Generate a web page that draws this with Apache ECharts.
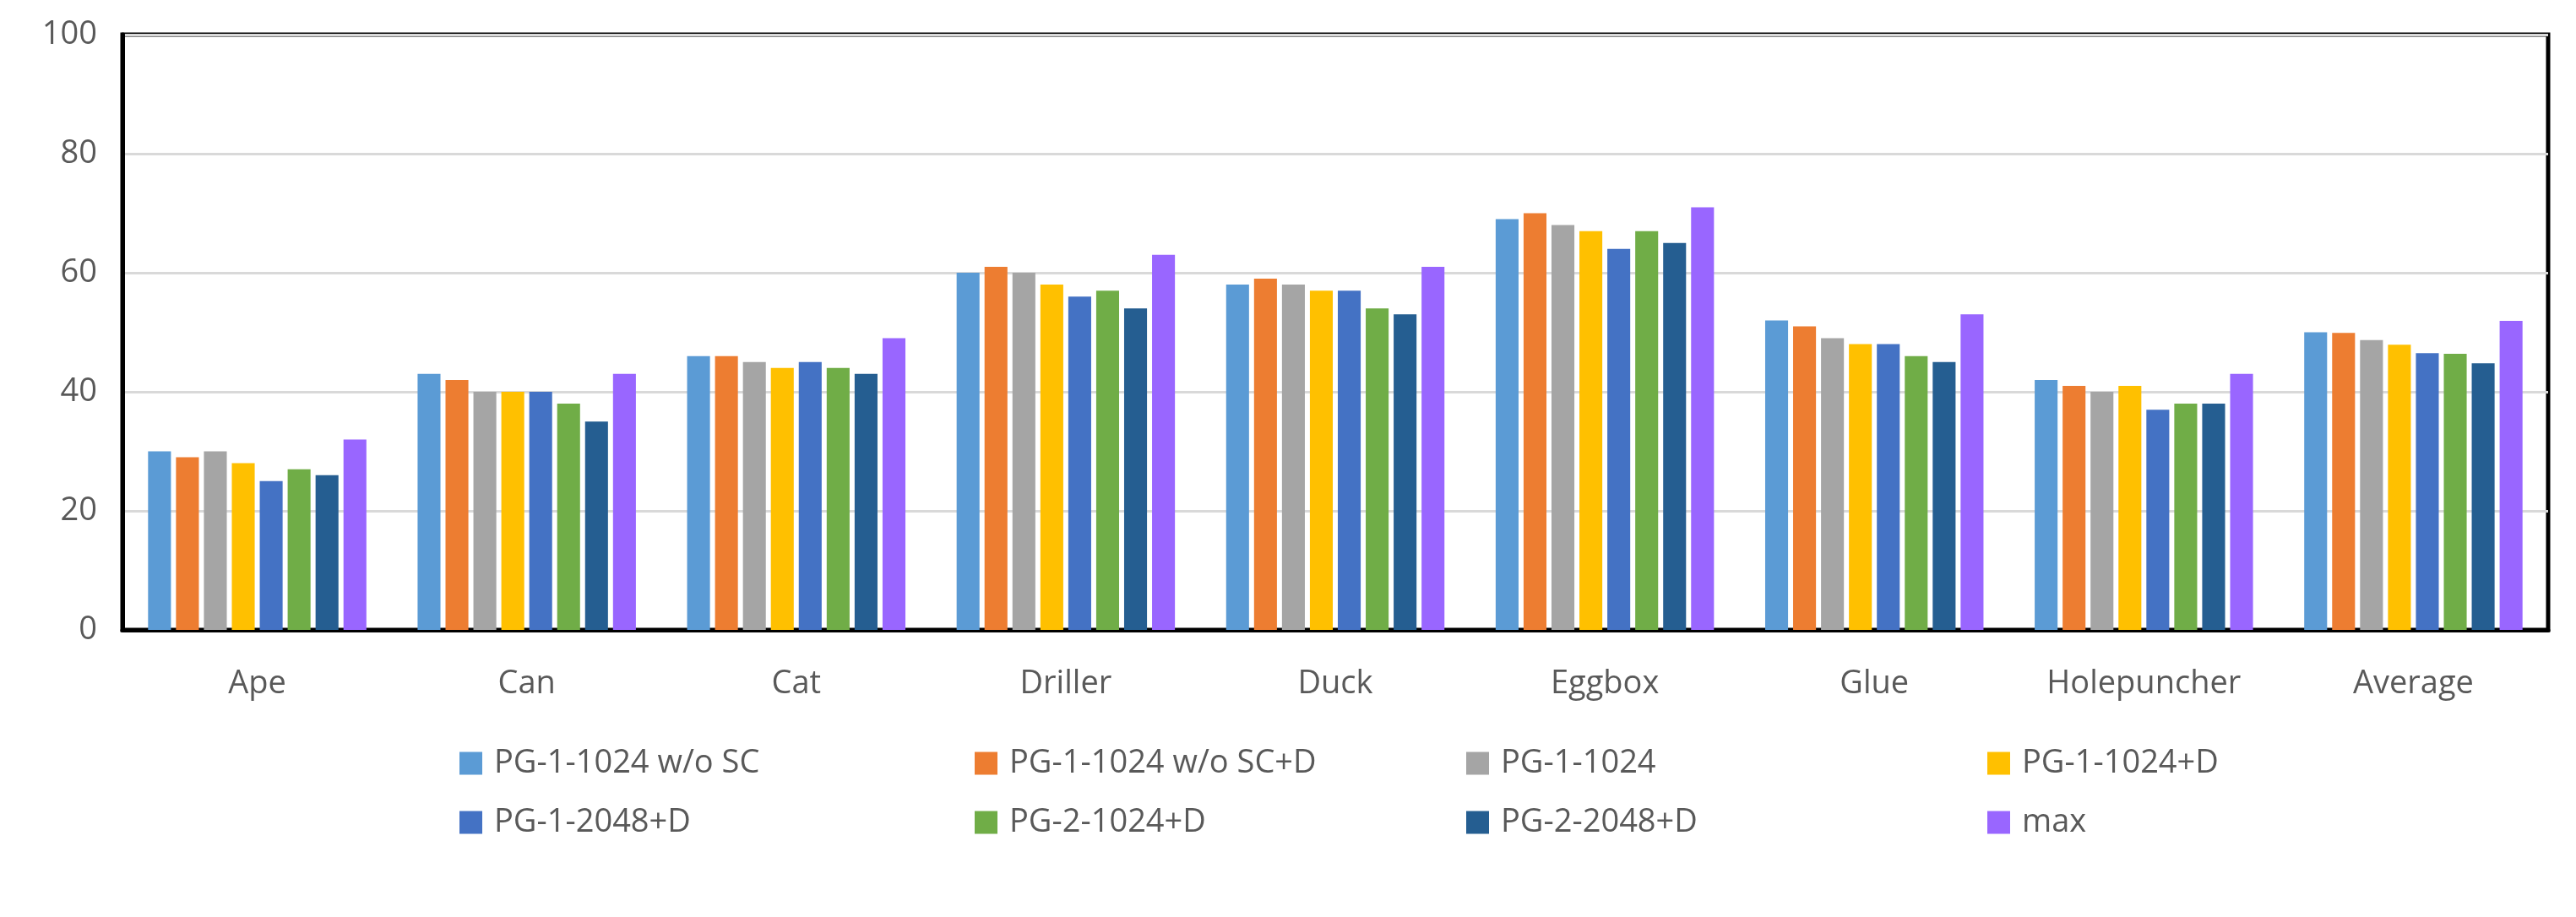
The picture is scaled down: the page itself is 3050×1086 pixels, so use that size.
<!DOCTYPE html>
<html><head><meta charset="utf-8">
<script src="https://cdn.jsdelivr.net/npm/echarts@6/dist/echarts.min.js"></script>
<style>html,body{margin:0;padding:0;background:#fff}#c{width:3050px;height:1086px}</style>
</head><body><div id="c"></div>
<script>
const categories = ['Ape','Can','Cat','Driller','Duck','Eggbox','Glue','Holepuncher','Average'];
const seriesNames = ['PG-1-1024 w/o SC','PG-1-1024 w/o SC+D','PG-1-1024','PG-1-1024+D','PG-1-2048+D','PG-2-1024+D','PG-2-2048+D','max'];
const colors = ['#5B9BD5','#ED7D31','#A5A5A5','#FFC000','#4472C4','#70AD47','#255E91','#9966FF'];
const s1 = [30,43,46,60,58,69,52,42,50];
const s2 = [29,42,46,61,59,70,51,41,49.9];
const s3 = [30,40,45,60,58,68,49,40,48.7];
const s4 = [28,40,44,58,57,67,48,41,47.9];
const s5 = [25,40,45,56,57,64,48,37,46.5];
const s6 = [27,38,44,57,54,67,46,38,46.4];
const s7 = [26,35,43,54,53,65,45,38,44.8];
const s8 = [32,43,49,63,61,71,53,43,51.9];
const yTicks = [0,20,40,60,80,100];
const allData = [s1,s2,s3,s4,s5,s6,s7,s8];
const font = 'Open Sans, Noto Sans, sans-serif';
const legendCols = [539,1149,1731,2348];
const legendRows = [880,950];
const legends = seriesNames.map((n,i)=>({
  orient:'horizontal', left:legendCols[i%4], top:legendRows[Math.floor(i/4)],
  itemWidth:27, itemHeight:27, icon:'rect', data:[n],
  textStyle:{fontSize:38, color:'#595959', fontFamily:font, padding:[0,0,0,9]}
}));
const chart = echarts.init(document.getElementById('c'));
chart.setOption({
  animation:false,
  color:colors,
  grid:{left:145, right:33, top:41, bottom:340, show:true, borderColor:'#000', borderWidth:5},
  legend:legends,
  xAxis:{type:'category', data:categories,
    axisLine:{show:true, lineStyle:{color:'#000', width:5}}, axisTick:{show:false},
    axisLabel:{fontSize:38, color:'#595959', fontFamily:font, margin:45}},
  yAxis:{type:'value', min:0, max:100, interval:20,
    axisLine:{show:true, lineStyle:{color:'#000', width:5}}, axisTick:{show:false},
    splitLine:{lineStyle:{color:'#D9D9D9', width:3}},
    axisLabel:{fontSize:38, color:'#595959', fontFamily:font, margin:30,
      formatter:v=>yTicks.includes(v)?String(v):''}},
  series: allData.map((d,i)=>({name:seriesNames[i], type:'bar', data:d,
    barGap:'22%', barCategoryGap:'19%', itemStyle:{color:colors[i]}}))
});
</script></body></html>
